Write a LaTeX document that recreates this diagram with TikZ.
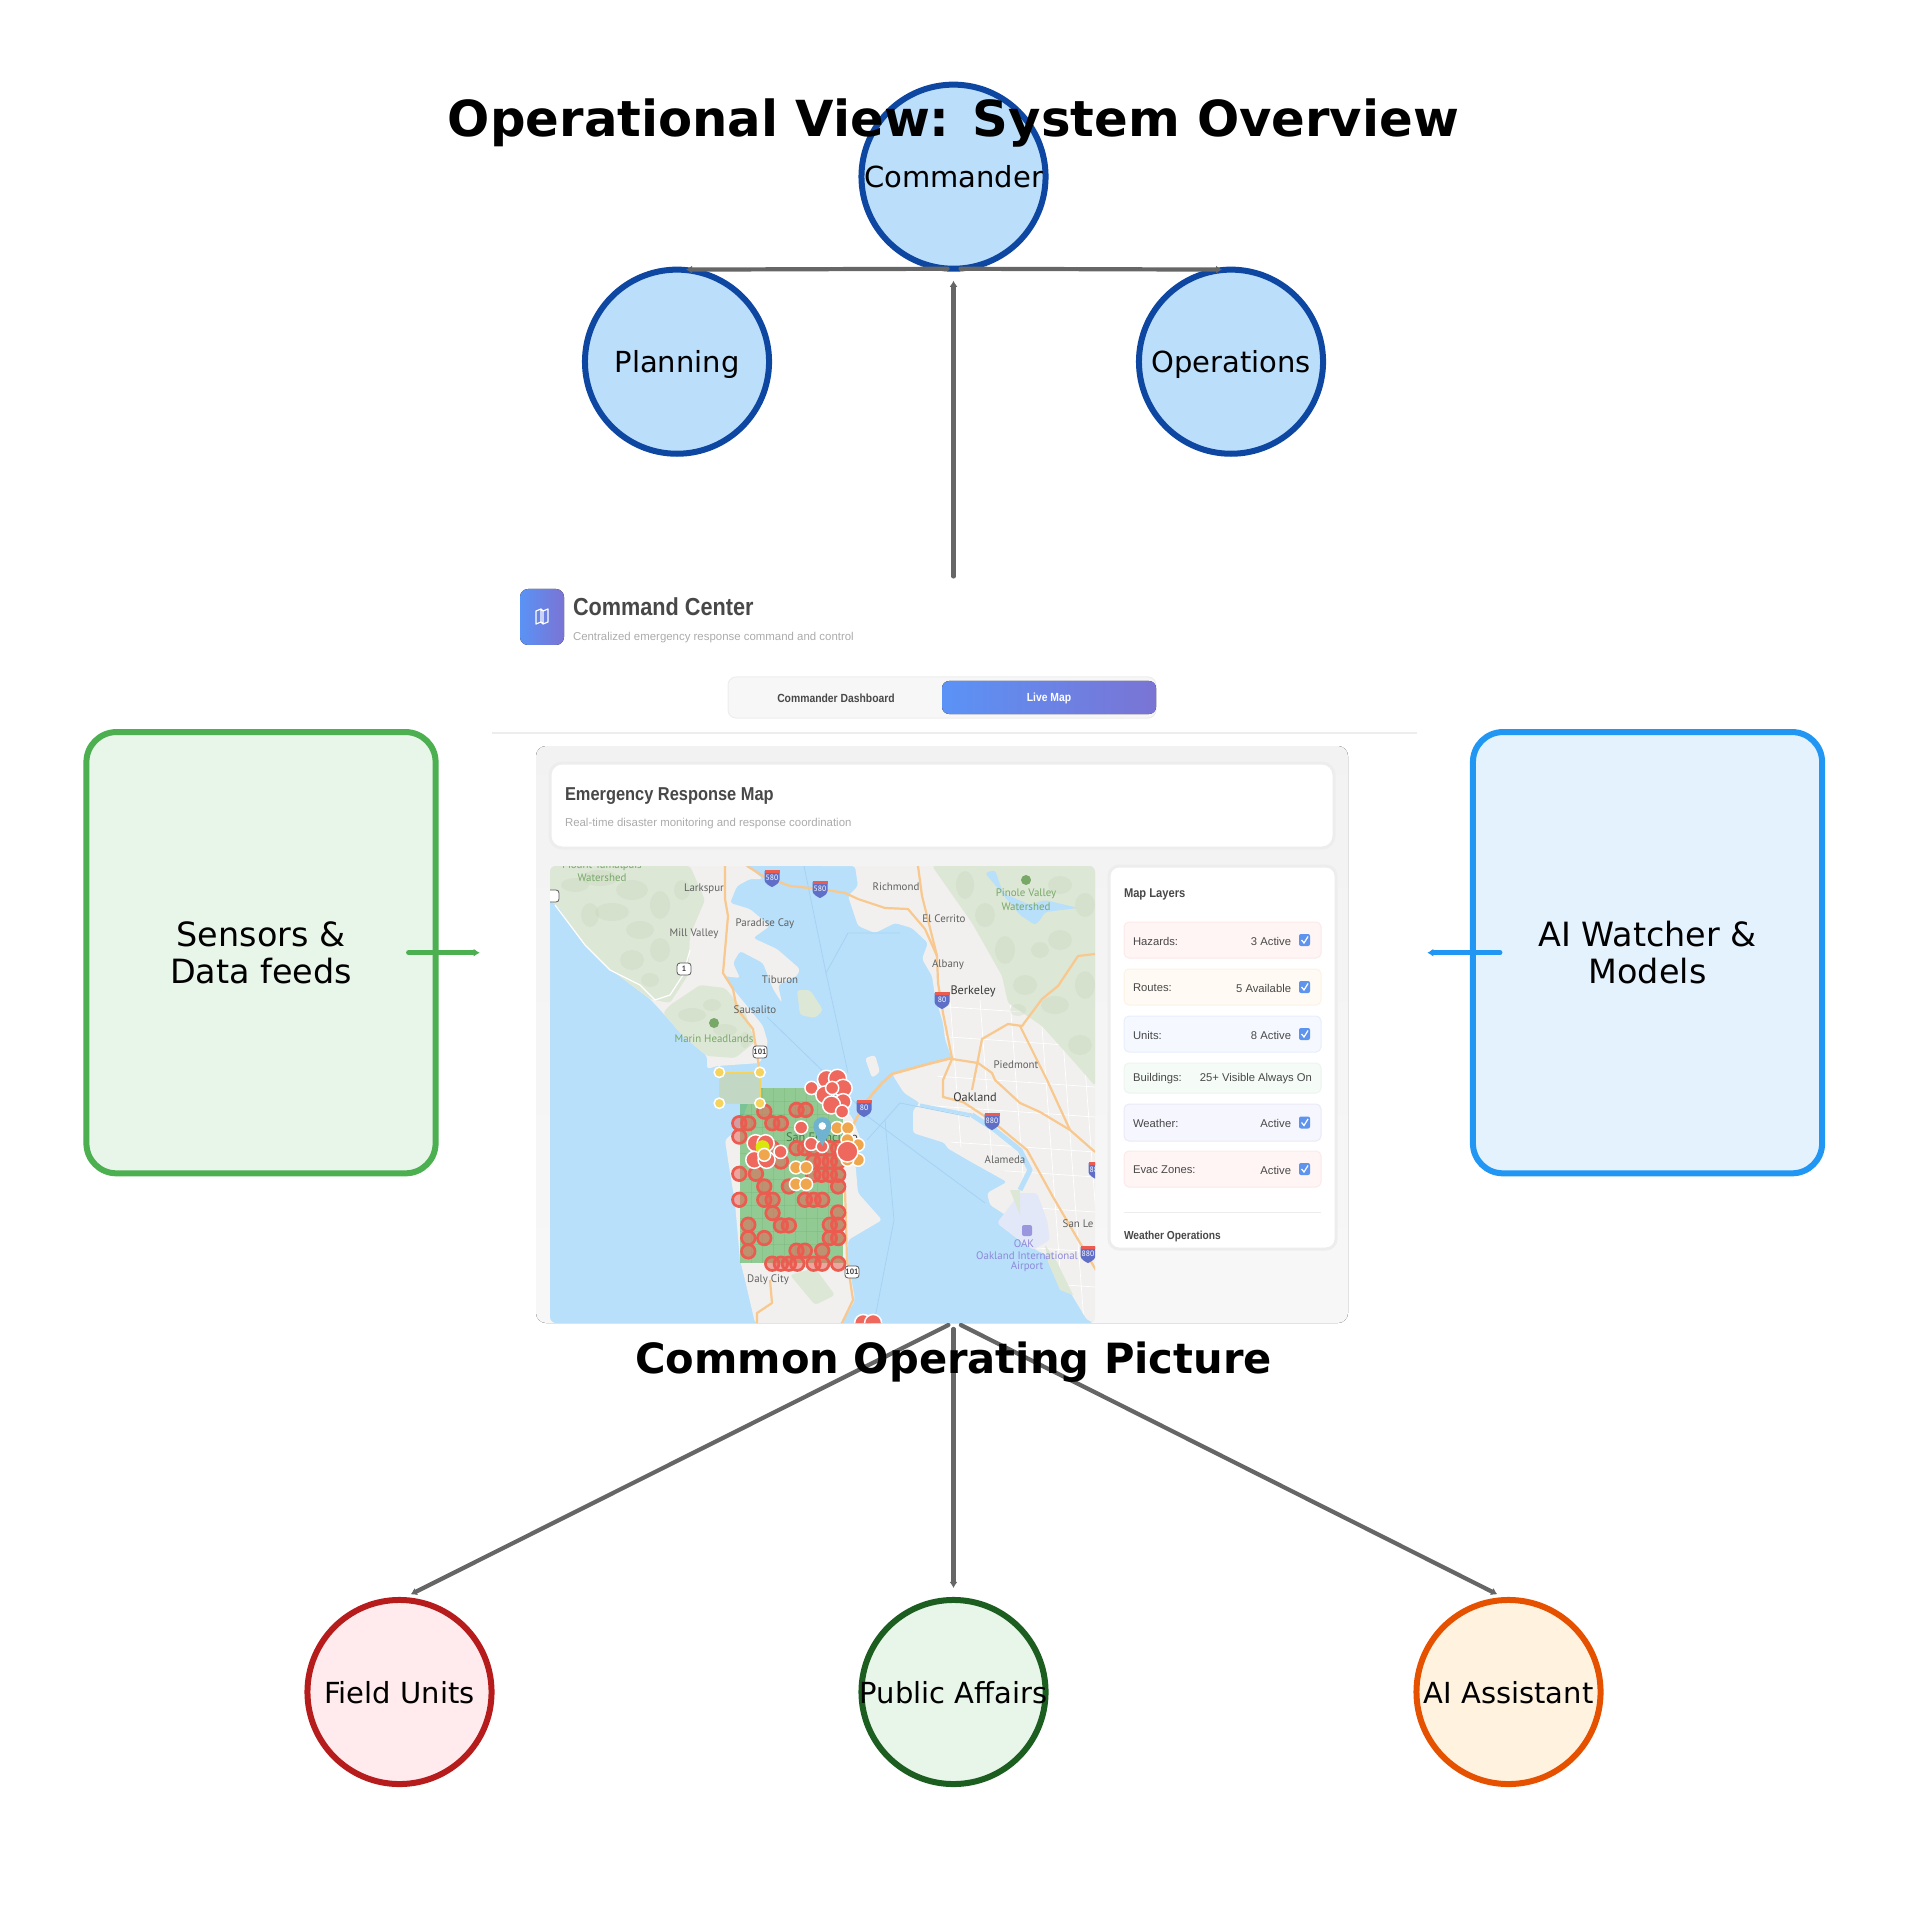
\documentclass[tikz,border=0pt]{standalone}
\usepackage{fontspec}
\setmainfont{DejaVu Sans}
\newfontfamily\uifont{Liberation Sans}
\newfontfamily\uitight[FakeStretch=0.88]{Liberation Sans}
\newfontfamily\mapfont{PT Sans}
\usepackage{tikz}
\usetikzlibrary{arrows.meta}

\definecolor{flowgray}{HTML}{666666}
\definecolor{cmdfill}{HTML}{BBDEFB}
\definecolor{cmdline}{HTML}{0D47A1}
\definecolor{fieldfill}{HTML}{FFEBEE}
\definecolor{fieldline}{HTML}{B71C1C}
\definecolor{pubfill}{HTML}{E8F5E9}
\definecolor{publine}{HTML}{1B5E20}
\definecolor{aifill}{HTML}{FFF3E0}
\definecolor{ailine}{HTML}{E65100}
\definecolor{sensline}{HTML}{4CAF50}
\definecolor{watchfill}{HTML}{E3F2FD}
\definecolor{watchline}{HTML}{2196F3}
\definecolor{gradblue}{HTML}{5B92F6}
\definecolor{gradpurple}{HTML}{7A74D4}
\definecolor{uidark}{HTML}{484848}
\definecolor{uigray}{HTML}{ABABAB}
\definecolor{water}{HTML}{B8E0FA}
\definecolor{land}{HTML}{F1F0EE}
\definecolor{hill}{HTML}{DDE7D6}
\definecolor{hilldark}{HTML}{C4D6BA}
\definecolor{road}{HTML}{F8C88E}
\definecolor{ferry}{HTML}{A6D2F3}
\definecolor{airfield}{HTML}{E3E8F8}
\definecolor{markred}{HTML}{EC5B50}
\definecolor{markorange}{HTML}{F0A64C}
\definecolor{markyellow}{HTML}{F6D35C}
\definecolor{pinblue}{HTML}{6FB3D0}
\definecolor{parkgreen}{HTML}{78A868}
\definecolor{rowred}{HTML}{FFF5F5}
\definecolor{rowredb}{HTML}{FCE9E9}
\definecolor{roworange}{HTML}{FFFAF3}
\definecolor{roworangeb}{HTML}{FDF2E3}
\definecolor{rowblue}{HTML}{F5F8FF}
\definecolor{rowblueb}{HTML}{E7EEFD}
\definecolor{rowgreen}{HTML}{F5FBF6}
\definecolor{rowgreenb}{HTML}{ECF5EE}
\definecolor{rowviolet}{HTML}{F6F6FE}
\definecolor{rowvioletb}{HTML}{EAEAF9}
\definecolor{checkblue}{HTML}{5E93EE}
\definecolor{shieldblue}{HTML}{5F6FC8}

\begin{document}
\begin{tikzpicture}[x=0.01cm, y=-0.01cm,
	every node/.style={outer sep=0pt},
	rolenode/.style={circle, minimum size=1.84cm, inner sep=0pt, line width=0.06cm, text depth=0pt, font=\fontsize{8.25}{10}\selectfont},
	feedbox/.style={rectangle, rounded corners=0.3cm, minimum width=3.49cm, minimum height=4.41cm, line width=0.06cm, align=center, font=\fontsize{9.5}{10.6}\selectfont},
	flowline/.style={draw=flowgray, line width=0.042cm, line cap=round, -{Latex[length=0.06cm,width=0.08cm]}},
	headtext/.style={font=\fontsize{11.84}{14}\selectfont\bfseries},
	uihead/.style={text=uidark, anchor=west, inner sep=0pt, font=\uitight\bfseries\fontsize{7}{8}\selectfont},
	uisub/.style={text=uigray, anchor=west, inner sep=0pt, font=\uifont\fontsize{3.25}{4}\selectfont},
	uirow/.style={text=uidark, inner sep=0pt, font=\uifont\fontsize{3.2}{4}\selectfont},
	maptext/.style={text=black!62, inner sep=0pt, align=center, font=\mapfont\fontsize{3.1}{3.6}\selectfont},
	zonemark/.style={draw=markred, line width=0.027cm, fill=markred, fill opacity=0.5},
	dotmark/.style={draw=white, line width=0.015cm, fill=markred!92!white},
	landshape/.style={rounded corners=0.03cm}]
	\useasboundingbox (0,0) rectangle (1907,1907);

	% Screenshot frame
	\node[rectangle, minimum width=9.27cm, minimum height=7.52cm] (cop) at (953.5,952.7) {};
	\coordinate (copsw) at (948.4,1325);
	\coordinate (copse) at (960.9,1325);

	% Header of the screenshot
	\fill[rounded corners=0.08cm, left color=gradblue, right color=gradpurple] (520,589) rectangle (564,645);
	\draw[white, line width=0.012cm, line join=round] (536,611) -- (541,609) -- (543,611) -- (548,609) -- (548,622) -- (543,624) -- (541,622) -- (536,624) -- cycle (541,609) -- (541,622) (543,611) -- (543,624);
	\node[uihead] (cchead) at (573,607) {Command Center};
	\node[uisub] (ccsub) at (573,638) {Centralized emergency response command and control};

	% Tabs
	\draw[draw=black!7, fill=black!3, rounded corners=0.08cm, line width=0.01cm] (728,677) rectangle (1156,718);
	\fill[rounded corners=0.07cm, left color=gradblue, right color=gradpurple] (942,681) rectangle (1156,714);
	\node[text=uidark, inner sep=0pt, font=\uitight\bfseries\fontsize{3.35}{4}\selectfont] (tabdash) at (836,698) {Commander Dashboard};
	\node[text=white, inner sep=0pt, font=\uitight\bfseries\fontsize{3.35}{4}\selectfont] (tablive) at (1049,698) {Live Map};
	\draw[black!7, line width=0.012cm] (492,733) -- (1417,733);

	% Panel behind the cards
	\fill[rounded corners=0.1cm, top color=black!5, bottom color=black!3] (536,1323) -- (536,746) -- (1348,746) -- (1348,1323) -- cycle;
	\draw[draw=black!7, line width=0.03cm, fill=white, rounded corners=0.12cm] (550,763) rectangle (1334,848);
	\node[uihead, font=\uitight\bfseries\fontsize{5.3}{6}\selectfont] (maphead) at (565,796.5) {Emergency Response Map};
	\node[uisub] (mapsub) at (565,824) {Real-time disaster monitoring and response coordination};

	% Map
	\begin{scope}
		\clip[rounded corners=0.06cm] (550,1323) -- (550,866) -- (1095,866) -- (1095,1323) -- cycle;
		\fill[water] (550,866) rectangle (1095,1323);

		% Marin
		\fill[land, landshape] (550,866) -- (550,900) -- (560,909) -- (583,943) -- (610,969) -- (650,999) -- (663,1013) -- (683,1036) -- (707,1056) -- (707,1069) -- (717,1066) -- (760,1063) -- (768,1043) -- (763,1026) -- (747,1006) -- (733,989) -- (723,976) -- (740,978) -- (733,963) -- (740,951) -- (763,963) -- (773,989) -- (782,1003) -- (778,985) -- (797,976) -- (800,969) -- (777,949) -- (753,938) -- (770,926) -- (750,909) -- (730,903) -- (737,886) -- (750,879) -- (763,879) -- (747,866) -- cycle;
		\fill[hill, landshape] (550,866) -- (690,866) -- (705,900) -- (690,935) -- (688,975) -- (670,1003) -- (650,999) -- (610,969) -- (583,943) -- (560,909) -- (550,900) -- cycle;
		\fill[hill, landshape] (663,1013) -- (683,1036) -- (707,1056) -- (735,1058) -- (755,1042) -- (745,1012) -- (725,988) -- (700,985) -- (670,1005) -- cycle;
		\foreach \bx/\by/\ba/\bb in {575/885/14/7, 600/878/18/8, 632/890/16/10, 660/905/10/14, 612/912/17/9, 590/915/9/12, 640/930/14/9, 660/950/10/12, 632/960/12/10, 650/980/9/7, 682/890/8/10, 692/1015/14/7, 725/1030/12/6, 712/1005/9/6, 745/1040/5/8}
		\fill[hilldark, fill opacity=0.3] (\bx,\by) ellipse (\ba*1 and \bb*1);
		\draw[white, line width=0.012cm, line join=round] (555,905) -- (585,945) -- (610,970) -- (640,985) -- (655,1000) -- (670,995) -- (683,975) -- (690,950);
		\fill[hill, landshape] (797,990) -- (810,990) -- (823,1010) -- (815,1018) -- (800,1015) -- cycle;

		% East Bay
		\fill[land, landshape] (820,866) -- (855,866) -- (858,886) -- (848,896) -- (858,926) -- (875,933) -- (895,923) -- (912,928) -- (928,943) -- (922,959) -- (932,976) -- (935,996) -- (943,1023) -- (945,1039) -- (952,1059) -- (928,1063) -- (892,1074) -- (904,1093) -- (920,1103) -- (913,1110) -- (913,1133) -- (945,1143) -- (947,1148) -- (973,1163) -- (1007,1182) -- (987,1193) -- (990,1205) -- (1018,1223) -- (997,1223) -- (1023,1243) -- (1050,1257) -- (1067,1287) -- (1087,1320) -- (1095,1323) -- (1095,866) -- cycle;

		% Streets
		\begin{scope}
			\clip (945,1000) -- (1095,1000) -- (1095,1323) -- (1087,1320) -- (1067,1287) -- (1050,1257) -- (1023,1243) -- (1040,1190) -- (1007,1172) -- (947,1140) -- (925,1100) -- (945,1062) -- cycle;
			\foreach \sy in {1005,1035,1075,1105,1140,1165,1200,1240,1275}
			\draw[white, line width=0.007cm] (920,\sy) -- (1095,\sy+12);
			\foreach \sx in {950,980,1010,1040,1060,1080}
			\draw[white, line width=0.007cm] (\sx,1000) -- (\sx+24,1323);
		\end{scope}

		\fill[hill, landshape] (932,866) -- (972,923) -- (1002,976) -- (1008,1003) -- (1042,1026) -- (1075,1063) -- (1095,1086) -- (1095,866) -- cycle;
		\foreach \bx/\by/\ba/\bb in {965/885/9/14, 985/915/10/12, 1005/950/10/14, 1025/985/12/10, 1055/1005/14/9, 1080/1045/12/10, 1060/940/12/10, 1085/985/10/14, 1040/950/9/8, 1060/885/12/9, 1085/905/10/12, 1018/1010/8/6}
		\fill[hilldark, fill opacity=0.3] (\bx,\by) ellipse (\ba*1 and \bb*1);
		\fill[water, landshape] (985,873) -- (995,870) -- (1003,893) -- (1030,905) -- (1045,900) -- (1078,908) -- (1045,912) -- (1040,920) -- (1035,925) -- (1020,915) -- cycle;
		\fill[airfield, landshape] (997,1223) -- (1020,1193) -- (1037,1193) -- (1047,1220) -- (1050,1240) -- (1033,1250) -- cycle;
		\fill[hill] (1010,1190) -- (1020,1190) -- (1020,1215) -- cycle;
		\fill[hill] (1045,1245) -- (1057,1262) -- (1073,1295) -- (1060,1290) -- (1048,1262) -- cycle;
		\draw[water, line width=0.03cm] (920,1105) -- (972,1115);
		\draw[water, line width=0.05cm, line join=round] (972,1115) -- (995,1130) -- (1020,1150) -- (1030,1170) -- (1020,1190);
		\fill[land, landshape] (865,1058) -- (875,1055) -- (880,1072) -- (872,1078) -- cycle;

		% San Francisco
		\fill[land, landshape] (740,1127) -- (725,1140) -- (728,1160) -- (735,1203) -- (740,1260) -- (745,1280) -- (755,1323) -- (842,1323) -- (855,1300) -- (848,1260) -- (848,1240) -- (882,1220) -- (858,1193) -- (855,1160) -- (862,1143) -- (852,1117) -- (835,1097) -- (815,1088) -- (762,1088) -- (748,1103) -- cycle;
		\fill[hill, landshape] (790,1275) -- (815,1268) -- (835,1295) -- (815,1305) -- cycle;

		% Ferry routes
		\draw[ferry, line width=0.008cm] (848,1073) -- (826,973) -- (804,866);
		\draw[ferry, line width=0.008cm] (826,973) -- (848,933) -- (900,933);
		\draw[ferry, line width=0.008cm] (863,1110) -- (767,1017);
		\draw[ferry, line width=0.008cm] (863,1113) -- (985,1203);
		\draw[ferry, line width=0.008cm] (867,1140) -- (900,1103) -- (970,1117);
		\draw[ferry, line width=0.008cm] (885,1120) -- (894,1220) -- (874,1323);

		% Highways
		\draw[road, line width=0.022cm, line join=round] (725,866) -- (725,899) -- (728,916) -- (723,973) -- (733,989) -- (737,1009) -- (753,1029) -- (760,1073) -- (760,1090);
		\draw[road, line width=0.022cm, line join=round] (747,866) -- (763,876) -- (790,886) -- (820,889) -- (845,893) -- (858,899) -- (885,908) -- (908,909) -- (925,929) -- (937,956) -- (938,983) -- (943,1013) -- (952,1058);
		\draw[road, line width=0.022cm, line join=round] (918,866) -- (922,896) -- (937,956);
		\draw[road, line width=0.026cm, line join=round] (952,1058) -- (928,1064) -- (892,1074) -- (882,1083) -- (865,1103) -- (852,1127);
		\draw[road, line width=0.022cm, line join=round] (952,1059) -- (978,1063) -- (992,1073) -- (995,1080) -- (1020,1103) -- (1040,1112) -- (1070,1130) -- (1095,1152);
		\draw[road, line width=0.022cm, line join=round] (952,1059) -- (943,1080) -- (943,1097) -- (963,1102) -- (992,1121) -- (1027,1150) -- (1053,1197) -- (1083,1248) -- (1100,1277);
		\draw[road, line width=0.022cm, line join=round] (972,1090) -- (982,1039) -- (1008,1024) -- (1022,1026) -- (1042,999) -- (1058,986) -- (1078,956) -- (1095,954);
		\draw[road, line width=0.022cm, line join=round] (1020,1026) -- (1035,1056) -- (1047,1080) -- (1070,1130);
		\draw[road, line width=0.022cm, line join=round] (757,1323) -- (757,1313) -- (772,1303) -- (770,1280);
		\draw[road, line width=0.022cm, line join=round] (845,1190) -- (847,1260) -- (853,1300) -- (842,1323);

		% Place names
		\foreach \lx/\ly/\ltext [count=\li] in {704/889/Larkspur, 765/924/Paradise Cay, 694/934/Mill Valley, 780/980/Tiburon, 755/1010/Sausalito, 896/887/Richmond, 944/919/El Cerrito, 948/965/Albany, 1016/1065/Piedmont, 1005/1160/Alameda, 1078/1224/San Le, 768/1280/Daly City}
		\node[maptext] (place\li) at (\lx,\ly) {\ltext};
		\foreach \lx/\ly/\ltext [count=\li] in {973/991/Berkeley, 975/1097/Oakland, 822/1137/San Francisco}
		\node[maptext, text=black!78, font=\mapfont\fontsize{3.5}{4}\selectfont] (city\li) at (\lx,\ly) {\ltext};
		\foreach \lx/\ly/\ltext [count=\li] in {602/866/Mount Tamalpais, 602/878/Watershed, 714/1039/Marin Headlands, 1026/894/Pinole Valley, 1026/907/Watershed}
		\node[maptext, text=parkgreen] (park\li) at (\lx,\ly) {\ltext};
		\foreach \lx/\ly/\ltext [count=\li] in {1024/1244/OAK, 1027/1256/Oakland International, 1027/1267/Airport}
		\node[maptext, text=gradpurple!85!white] (oak\li) at (\lx,\ly) {\ltext};

		% Park and airport icons
		\fill[parkgreen] (714,1023) circle (5);
		\fill[parkgreen] (1026,880) circle (5);
		\fill[gradpurple!75!white, rounded corners=0.02cm] (1022,1225) rectangle (1032,1236);

		% Interstate shields
		\foreach \sx/\sy/\slab [count=\si] in {772/878/580, 820/889/580, 942/1000/80, 864/1108/80, 992/1121/880, 1088/1254/880, 1096/1170/880}{
			\fill[shieldblue] (\sx-7.5,\sy-7) -- (\sx+7.5,\sy-7) -- (\sx+7.5,\sy+2) .. controls (\sx+7,\sy+6) and (\sx+2,\sy+8) .. (\sx,\sy+9) .. controls (\sx-2,\sy+8) and (\sx-7,\sy+6) .. (\sx-7.5,\sy+2) -- cycle;
			\fill[markred] (\sx-7.5,\sy-8) rectangle (\sx+7.5,\sy-5);
			\node[text=white, inner sep=0pt, font=\mapfont\fontsize{2.2}{3}\selectfont] (shield\si) at (\sx,\sy) {\slab};
		}
		\foreach \sx/\sy/\slab [count=\si] in {760/1052/101, 852/1272/101, 684/969/1, 552/896/{}}{
			\draw[draw=black!65, fill=white, line width=0.008cm, rounded corners=0.03cm] (\sx-7,\sy-6) rectangle (\sx+7,\sy+6);
			\node[text=black!75, inner sep=0pt, font=\mapfont\bfseries\fontsize{2.2}{3}\selectfont] (route\si) at (\sx,\sy) {\slab};
		}

		% Green grid over the city
		\fill[sensline, opacity=0.58] (740,1088) rectangle (843,1263);
		\foreach \gx in {751,762,773,784,795,806,817,828}
		\draw[publine, opacity=0.07, line width=0.006cm] (\gx,1088) -- (\gx,1263);
		\foreach \gy in {1101,1114,1127,1140,1153,1166,1179,1192,1205,1218,1231,1244}
		\draw[publine, opacity=0.07, line width=0.006cm] (740,\gy) -- (843,\gy);

		% Yellow selection box
		\draw[markyellow, line width=0.01cm, fill=hilldark!85!water] (719.3,1072.3) rectangle (760,1103.3);

		% Markers, read off in finer steps
		\begin{scope}[shift={(715,1060)}, x=0.00333cm, y=-0.00333cm]
			\foreach \mx/\my in {73/190,100/190,73/230,148/155,172/190,198/190,245/150,272/150,73/342,123/342,148/380,222/380,73/420,148/420,173/420,173/460,270/420,296/420,322/420,370/380,370/345,345/345,320/345,295/345,370/305,345/305,320/305,295/305,198/305,172/265,245/265,270/265,295/265,345/265,370/265,370/458,345/495,370/495,345/535,370/535,100/495,100/535,100/575,148/535,198/497,222/497,245/573,270/573,322/573,172/612,198/612,222/612,247/612,296/612,322/612,370/612}
			\draw[zonemark] (\mx,\my) circle (0.068cm);
			\foreach \mx/\my in {13/37,135/37,13/130,135/130}
			\draw[dotmark, fill=markyellow] (\mx,\my) circle (0.052cm);
			\foreach \mx/\my/\mr in {445/790/0.085,475/790/0.085,290/84/0.066,335/58/0.09,368/55/0.09,385/85/0.09,330/105/0.09,385/125/0.08,350/135/0.09,382/155/0.066,352/84/0.066,259/203/0.066,289/252/0.066,322/260/0.06,122/250/0.085,152/250/0.085,118/300/0.085,155/300/0.085,197/276/0.066}
			\draw[dotmark] (\mx,\my) circle (\mr cm);
			\fill[yellow!85!green] (143,262) circle (0.07cm);
			\foreach \mx/\my in {367/204,399/204,243/323,274/323,243/373,274/373,430/255,430/300,398/240,398/300,148/285}
			\draw[dotmark, fill=markorange] (\mx,\my) circle (0.064cm);
			\draw[dotmark] (398,275) circle (0.105cm);
		\end{scope}

		% Location pin
		\fill[pinblue] (813.4,1126) arc[start angle=180, end angle=0, radius=0.089cm] .. controls (831.2,1133) and (825,1140) .. (822.3,1146) .. controls (819.6,1140) and (813.4,1133) .. (813.4,1126) -- cycle;
		\fill[white] (822.3,1126) circle (3.8);
	\end{scope}

	% Map layers card
	\draw[draw=black!7, line width=0.03cm, fill=white, rounded corners=0.1cm] (1109,866) rectangle (1336,1249);
	\node[uirow, anchor=west, font=\uitight\bfseries\fontsize{3.6}{4}\selectfont] (layerhead) at (1124,894) {Map Layers};
	\foreach \ry/\rh/\rlab/\rval/\rfc/\rdc in {940/18/Hazards:/3 Active/rowred/rowredb, 987/18/Routes:/5 Available/roworange/roworangeb, 1034/18/Units:/8 Active/rowblue/rowblueb, 1122.5/18.5/Weather:/Active/rowviolet/rowvioletb, 1169/18/Evac Zones:/Active/rowred/rowredb}{
		\draw[draw=\rdc, fill=\rfc, line width=0.01cm, rounded corners=0.05cm] (1124,\ry-\rh) rectangle (1321,\ry+\rh);
		\node[uirow, anchor=west] (rowlab\rfc) at (1133,\ry+1) {\rlab};
		\node[uirow, anchor=east] (rowval\rfc) at (1291,\ry+1) {\rval};
		\fill[checkblue, rounded corners=0.02cm] (1299,\ry-6) rectangle (1310,\ry+6);
		\draw[white, line width=0.012cm] (1301.5,\ry) -- (1304,\ry+3) -- (1308,\ry-3.5);
	}
	\draw[draw=rowgreenb, fill=rowgreen, line width=0.01cm, rounded corners=0.05cm] (1124,1063) rectangle (1321,1093);
	\node[uirow, anchor=west] (rowlabbuild) at (1133,1079) {Buildings:};
	\node[uirow, anchor=east] (rowvalbuild) at (1312,1079) {25+ Visible Always On};
	\draw[black!7, line width=0.008cm] (1124,1212) -- (1321,1212);
	\node[uirow, anchor=west, font=\uitight\bfseries\fontsize{3.3}{4}\selectfont] (weatherhead) at (1124,1236) {Weather Operations};

	% Side boxes
	\node[feedbox, draw=sensline, fill=pubfill] (sensors) at (261,952.7) {Sensors \&\\Data feeds};
	\node[feedbox, draw=watchline, fill=watchfill] (watcher) at (1647.5,952.7) {AI Watcher \&\\Models};

	% Roles
	\node[rolenode, draw=cmdline, fill=cmdfill] (commander) at (953.5,176.7) {Commander};
	\node[rolenode, draw=cmdline, fill=cmdfill] (planning) at (677,361.7) {Planning};
	\node[rolenode, draw=cmdline, fill=cmdfill] (operations) at (1231,361.7) {Operations};
	\node[rolenode, draw=fieldline, fill=fieldfill] (field) at (399.5,1692) {Field Units};
	\node[rolenode, draw=publine, fill=pubfill] (public) at (953.5,1692) {\makebox[0pt]{Public Affairs}};
	\node[rolenode, draw=ailine, fill=aifill] (assist) at (1508.5,1692) {AI Assistant};

	% Connectors
	\draw[flowline, shorten <=0.06cm, shorten >=0.09cm] (commander.south) -- (planning.north);
	\draw[flowline, shorten <=0.07cm, shorten >=0.09cm] (commander.south) -- (operations.north);
	\draw[flowline, shorten >=0.12cm] (cop.north) -- (commander.south);
	\draw[flowline, shorten >=0.126cm] (copsw) -- (field.north);
	\draw[flowline, shorten >=0.12cm] (cop.south) -- (public.north);
	\draw[flowline, shorten >=0.126cm] (copse) -- (assist.north);
	\draw[flowline, draw=sensline, line width=0.05cm, shorten <=-0.27cm, shorten >=0.1cm] (sensors.east) -- (cop.west);
	\draw[flowline, draw=watchline, line width=0.05cm, shorten <=-0.27cm, shorten >=0.1cm] (watcher.west) -- (cop.east);

	% Titles on top
	\node[headtext, font=\fontsize{14.13}{16}\selectfont\bfseries] (title) at (953.5,123) {Operational View: System Overview};
	\node[headtext] (coptitle) at (953.5,1362) {Common Operating Picture};
\end{tikzpicture}
\end{document}
